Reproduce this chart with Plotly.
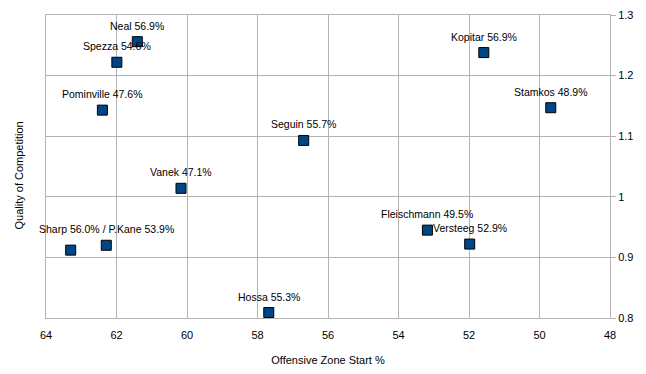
import plotly.graph_objects as go

players = ["Neal", "Spezza", "Pominville", "Seguin", "Vanek", "Sharp", "P.Kane",
           "Hossa", "Kopitar", "Stamkos", "Fleischmann", "Versteeg"]
oz_start = [61.41, 61.99, 62.40, 56.69, 60.17, 63.30, 62.29, 57.68, 51.58, 49.68, 53.18, 51.98]
qoc = [1.256, 1.222, 1.143, 1.093, 1.014, 0.912, 0.920, 0.809, 1.238, 1.147, 0.945, 0.922]
labels = ["Neal 56.9%", "Spezza 54.6%", "Pominville 47.6%", "Seguin 55.7%", "Vanek 47.1%",
          "", "Sharp 56.0% / P.Kane 53.9%", "Hossa 55.3%", "Kopitar 56.9%",
          "Stamkos 48.9%", "Fleischmann 49.5%", "Versteeg 52.9%"]

x_ticks = [64, 62, 60, 58, 56, 54, 52, 50, 48]
y_ticks = [0.8, 0.9, 1.0, 1.1, 1.2, 1.3]
y_tick_text = ["0.8", "0.9", "1", "1.1", "1.2", "1.3"]

FONT = "Liberation Sans, Arial, sans-serif"
GRID = "#b3b3b3"

fig = go.Figure()
fig.add_trace(go.Scatter(
    x=oz_start, y=qoc, mode="markers",
    marker=dict(symbol="square", size=10, color="#004586",
                line=dict(color="#000000", width=1)),
    hoverinfo="text", text=players, showlegend=False,
))

for xv, yv, lab in zip(oz_start, qoc, labels):
    if lab:
        fig.add_annotation(x=xv, y=yv, text=lab, showarrow=False, yshift=16,
                           font=dict(family=FONT, size=10.5, color="#000000"))

# page body adds an 8px margin, so the figure is sized 8px smaller
fig.update_layout(
    width=638, height=366,
    margin=dict(l=38, r=36, t=7, b=56, autoexpand=False),
    paper_bgcolor="white", plot_bgcolor="white",
    font=dict(family=FONT, size=11, color="#000000"),
    xaxis=dict(
        range=[64, 48], tickvals=x_ticks, ticktext=[str(v) for v in x_ticks],
        showgrid=True, gridcolor=GRID, gridwidth=1, zeroline=False,
        showline=True, linecolor=GRID, linewidth=1, mirror=True,
        ticks="", tickfont=dict(size=11), ticklabelstandoff=7, automargin=False,
        title=dict(text="Offensive Zone Start %", font=dict(size=11), standoff=16),
    ),
    yaxis=dict(
        range=[0.8, 1.3], tickvals=y_ticks, ticktext=y_tick_text, side="right",
        showgrid=True, gridcolor=GRID, gridwidth=1, zeroline=False,
        showline=True, linecolor=GRID, linewidth=1, mirror=True,
        ticks="outside", ticklen=5, tickcolor=GRID, tickfont=dict(size=11),
        automargin=False, title=None,
    ),
)

fig.add_annotation(text="Quality of Competition", xref="paper", yref="paper",
                   x=-0.048, y=0.47, xanchor="center", yanchor="middle",
                   textangle=-90, showarrow=False, font=dict(family=FONT, size=11))

fig.write_html("out.html")
